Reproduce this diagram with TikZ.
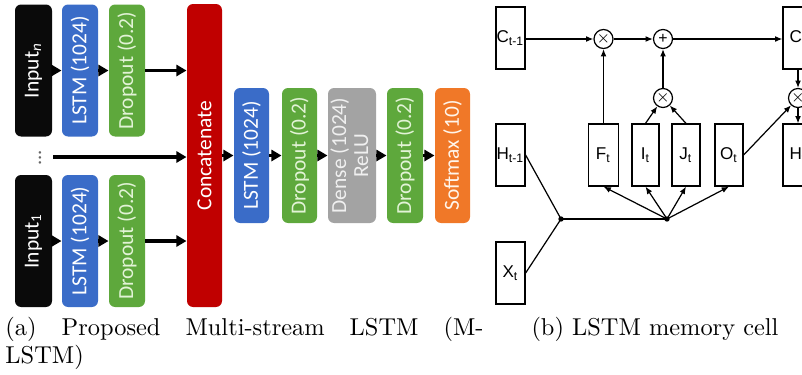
\documentclass[tikz,border=0pt]{standalone}
\usepackage{fontspec}
\usepackage{graphicx}
\newfontfamily\boxfont{Carlito}
\newfontfamily\cellfont{Liberation Sans}
\usetikzlibrary{arrows.meta}
\definecolor{inblack}{HTML}{0A0A0A}
\definecolor{lstmblue}{HTML}{3A6CC8}
\definecolor{dropgreen}{HTML}{5EA83C}
\definecolor{catred}{HTML}{C00000}
\definecolor{densegray}{HTML}{A3A3A3}
\definecolor{softorange}{HTML}{F07828}
\definecolor{droptext}{HTML}{E2F3D6}
\begin{document}
\begin{tikzpicture}[x=0.41pt,y=-0.41pt,
  blk/.style={rounded corners=2.5pt, inner sep=0pt, text=white, align=center,
    font=\boxfont\fontsize{8.8}{10.5}\selectfont},
  fat/.style={line width=1.3pt, -{Triangle[length=4.2pt,width=4.6pt]}},
  cbox/.style={draw, line width=0.5pt, inner sep=0pt, font=\cellfont\fontsize{7}{8}\selectfont},
  opnode/.style={draw, circle, line width=0.5pt, inner sep=0pt, minimum size=19*0.41pt,
    font=\cellfont\fontsize{6.5}{7}\selectfont},
  thinarrow/.style={line width=0.5pt, -{Latex[length=3pt,width=2.4pt]}},
  junction/.style={circle, fill=black, inner sep=0pt, minimum size=2.2pt},
  captxt/.style={inner sep=0pt, font=\fontsize{10}{11.6}\selectfont}
]
\useasboundingbox (0,0) rectangle (802,374);

% ---------- (a) multi-stream LSTM ----------
\node[blk, fill=inblack, minimum width=37*0.41pt, minimum height=132*0.41pt] (inN) at (33.5,70.5) {\rotatebox{90}{Input\textsubscript{\textit{n}}}};
\node[blk, fill=lstmblue, minimum width=36*0.41pt, minimum height=132*0.41pt] (lstmN) at (80,70.5) {\rotatebox{90}{LSTM (1024)}};
\node[blk, fill=dropgreen, text=droptext, minimum width=36*0.41pt, minimum height=132*0.41pt] (dropN) at (127,70.5) {\rotatebox{90}{Dropout (0.2)}};

\node[blk, fill=inblack, minimum width=37*0.41pt, minimum height=132*0.41pt] (in1) at (33.5,241) {\rotatebox{90}{Input\textsubscript{1}}};
\node[blk, fill=lstmblue, minimum width=36*0.41pt, minimum height=132*0.41pt] (lstm1) at (80,241) {\rotatebox{90}{LSTM (1024)}};
\node[blk, fill=dropgreen, text=droptext, minimum width=36*0.41pt, minimum height=132*0.41pt] (drop1) at (127,241) {\rotatebox{90}{Dropout (0.2)}};

\node[inner sep=0pt, text=black!60, font=\boxfont\fontsize{8.5}{10}\selectfont] (dots) at (40,158) {\rotatebox{90}{...}};
\coordinate (dotsend) at (53,157);

\node[blk, fill=catred, minimum width=35*0.41pt, minimum height=303*0.41pt] (cat) at (204.5,155.5) {\rotatebox{90}{Concatenate}};

\node[blk, fill=lstmblue, minimum width=35*0.41pt, minimum height=135*0.41pt] (lstm2) at (251.5,155.5) {\rotatebox{90}{LSTM (1024)}};
\node[blk, fill=dropgreen, text=droptext, minimum width=35*0.41pt, minimum height=135*0.41pt] (drop2) at (299.5,155.5) {\rotatebox{90}{Dropout (0.2)}};
\node[blk, fill=densegray, text=white!88!gray, minimum width=48*0.41pt, minimum height=135*0.41pt] (dense) at (352,155.5) {\rotatebox{90}{\begin{tabular}{@{}c@{}}Dense (1024)\\[-1.5pt] ReLU\end{tabular}}};
\node[blk, fill=dropgreen, text=droptext, minimum width=36*0.41pt, minimum height=135*0.41pt] (drop3) at (405,155.5) {\rotatebox{90}{Dropout (0.2)}};
\node[blk, fill=softorange, text=white!92!orange, minimum width=35*0.41pt, minimum height=135*0.41pt] (soft) at (452.5,155.5) {\rotatebox{90}{Softmax (10)}};

\draw[fat] (inN) -- (lstmN);
\draw[fat] (lstmN) -- (dropN);
\draw[fat] (dropN.east) -- (cat.west |- dropN.east);
\draw[fat] (in1) -- (lstm1);
\draw[fat] (lstm1) -- (drop1);
\draw[fat] (drop1.east) -- (cat.west |- drop1.east);
\draw[fat] (dotsend) -- (cat.west |- dotsend);
\draw[fat] (cat) -- (lstm2);
\draw[fat] (lstm2) -- (drop2);
\draw[fat] (drop2) -- (dense);
\draw[fat] (dense) -- (drop3);
\draw[fat] (drop3) -- (soft);

% ---------- (b) LSTM memory cell ----------
\node[cbox, minimum width=29*0.41pt, minimum height=62*0.41pt] (cprev) at (510.5,38) {C\textsubscript{t-1}};
\node[cbox, minimum width=29*0.41pt, minimum height=62*0.41pt] (hprev) at (510.5,155) {H\textsubscript{t-1}};
\node[cbox, minimum width=29*0.41pt, minimum height=62*0.41pt] (xt) at (510.5,273) {X\textsubscript{t}};
\node[cbox, minimum width=30*0.41pt, minimum height=62*0.41pt] (ft) at (603.5,155) {F\textsubscript{t}};
\node[cbox, minimum width=27*0.41pt, minimum height=62*0.41pt] (it) at (645.5,155) {I\textsubscript{t}};
\node[cbox, minimum width=28*0.41pt, minimum height=62*0.41pt] (jt) at (686,155) {J\textsubscript{t}};
\node[cbox, minimum width=28*0.41pt, minimum height=62*0.41pt] (ot) at (729,155) {O\textsubscript{t}};
\node[cbox, minimum width=30*0.41pt, minimum height=62*0.41pt] (ct) at (798,38) {C\textsubscript{t}};
\node[cbox, minimum width=30*0.41pt, minimum height=62*0.41pt] (ht) at (798,155) {H\textsubscript{t}};

\node[opnode] (m1) at (603.5,39) {$\times$};
\node[opnode] (add) at (663,39) {+};
\node[opnode] (m2) at (663,98) {$\times$};
\node[opnode] (m3) at (798,98) {$\times$};

\node[junction] (j1) at (561,219) {};
\node[junction] (j2) at (667,219) {};

\draw[thinarrow] (cprev.east |- m1) -- (m1);
\draw[thinarrow] (m1) -- (add);
\draw[thinarrow] (add) -- (ct.west |- add);
\draw[thinarrow] (ft) -- (m1);
\draw[thinarrow] (it.north) -- (m2);
\draw[thinarrow] (jt.north) -- (m2);
\draw[thinarrow] (m2) -- (add);
\draw[thinarrow] (ct) -- (m3);
\draw[thinarrow] (m3) -- (ht);
\draw[thinarrow] (ot.east) -- (m3);
\draw[line width=0.5pt] (hprev.east) -- (j1.center) -- (xt.east);
\draw[line width=0.5pt] (j1.center) -- (j2.center);
\draw[thinarrow] (j2.center) -- (ft.south);
\draw[thinarrow] (j2.center) -- (it.south);
\draw[thinarrow] (j2.center) -- (jt.south);
\draw[thinarrow] (j2.center) -- (ot.south);

% ---------- captions ----------
\node[captxt, anchor=base west, text width=196pt, align=justify] (capa) at (5,335) {(a) Proposed Multi-stream LSTM (M-\linebreak LSTM)};
\node[captxt, anchor=base west] (capb) at (531,335) {(b) LSTM memory cell};
\end{tikzpicture}
\end{document}
